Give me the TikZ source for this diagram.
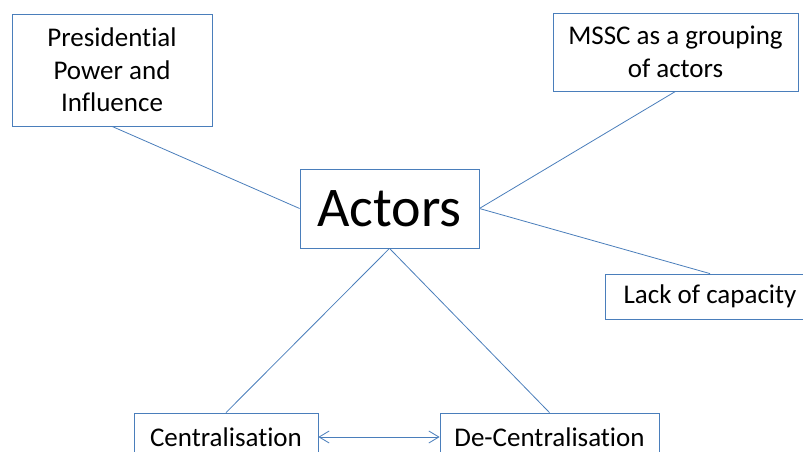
\documentclass[tikz,border=0pt]{standalone}
\usepackage{fontspec}
\setmainfont[Ligatures=NoCommon]{Carlito}
\usetikzlibrary{positioning,arrows.meta}
\definecolor{OfficeBlue}{HTML}{4A7EBB}

\begin{document}
\begin{tikzpicture}[x=1pt, y=-1pt,
    every node/.style={draw=OfficeBlue, line width=0.8pt, align=center,
        inner sep=0pt, font=\fontsize{27}{32.7}\selectfont},
    link/.style={draw=OfficeBlue, line width=0.8pt},
    >={Straight Barb[length=10pt, width=12pt]}]
    \useasboundingbox (0,0) rectangle (803,452);

    \node[minimum width=200, minimum height=112] (power) at (112,70)
        {Presidential\\Power and\\Influence};
    \node[minimum width=245, minimum height=78] (mssc) at (675.5,52)
        {MSSC as a grouping\\of actors};
    \node[minimum width=179, minimum height=79,
        font=\fontsize{56}{68}\selectfont] (actors) at (389.5,208.5) {Actors};
    \node[minimum width=210, minimum height=45] (capacity) at (710,296.5)
        {Lack of capacity};
    \node[minimum width=184, minimum height=48] (central) at (226,437)
        {Centralisation};
    \node[minimum width=219, minimum height=48] (decentral) at (549.5,437)
        {De-Centralisation};

    \draw[link] (power.south) -- (actors.west);
    \draw[link] (mssc.south) -- (actors.east);
    \draw[link] (actors.east) -- (capacity.north);
    \draw[link] (actors.south) -- (central.north);
    \draw[link] (actors.south) -- (decentral.north);
    \draw[link, <->] (central.east) -- (decentral.west);
\end{tikzpicture}
\end{document}
